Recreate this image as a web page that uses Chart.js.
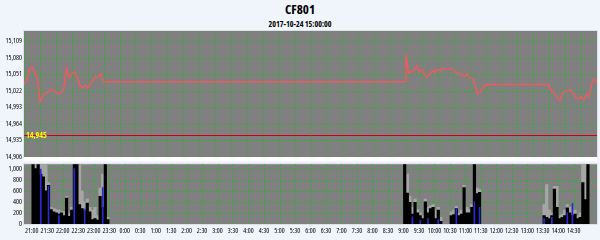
<!DOCTYPE html>
<html>
<head>
<meta charset="utf-8">
<script src="https://cdn.jsdelivr.net/npm/chart.js@4.4.0/dist/chart.umd.min.js"></script>
<style>
    html, body { margin: 0; padding: 0; background: #f0f4fb; }
    #wrap { position: relative; width: 600px; height: 240px; overflow: hidden; }
    canvas { position: absolute; left: 0; }
    #priceChart { top: 0; }
    #volChart { top: 158px; }
    #divider { position: absolute; left: 24px; top: 157px; width: 573px; height: 4px; background: #fff; }
    .head { position: absolute; left: 0; width: 600px; text-align: center; color: #000;
        font-family: 'Open Sans', sans-serif; font-stretch: condensed; font-weight: bold; white-space: nowrap; }
    #title { top: 2px; font-size: 13px; line-height: 14px; }
    #subtitle { top: 19px; font-size: 8px; line-height: 9px; }
</style>
</head>
<body>
<div id="wrap">
    <div id="title" class="head"></div>
    <div id="subtitle" class="head"></div>
    <canvas id="priceChart" width="600" height="166"></canvas>
    <canvas id="volChart" width="600" height="82"></canvas>
    <div id="divider"></div>
</div>
<script>
// Chart text
const chartTitle = 'CF801';
const chartSubtitle = '2017-10-24 15:00:00';

// Axis ticks
const timeTicks = ['21:00', '21:30', '22:00', '22:30', '23:00', '23:30', '0:00', '0:30', '1:00', '1:30',
    '2:00', '2:30', '3:00', '3:30', '4:00', '4:30', '5:00', '5:30', '6:00', '6:30', '7:00', '7:30',
    '8:00', '8:30', '9:00', '9:30', '10:00', '10:30', '11:00', '11:30', '12:00', '12:30', '13:00',
    '13:30', '14:00', '14:30'];
const sessionEnd = '15:00';
const priceTicks = [14906, 14935, 14964, 14993, 15022, 15051, 15080, 15109];
const priceMin = 14906;
const priceMax = 15127;
const volumeTicks = [0, 200, 400, 600, 800, 1000];
const volumeMax = 1080;
const refPrice = 14945;

// Price line
const priceTimes = ['21:00', '21:05', '21:10', '21:15', '21:20', '21:25', '21:30', '21:35', '21:40', '21:45',
    '21:50', '21:55', '22:00', '22:05', '22:10', '22:15', '22:20', '22:25', '22:30', '22:35', '22:40',
    '22:45', '22:50', '22:55', '23:00', '23:05', '23:10', '23:15', '23:20', '23:25', '23:30',
    '9:00', '9:00', '9:05', '9:10', '9:15', '9:20', '9:25', '9:30', '9:35', '9:40', '9:45', '9:50',
    '9:55', '10:00', '10:05', '10:10', '10:15', '10:30', '10:35', '10:40', '10:45', '10:50', '10:55',
    '11:00', '11:05', '11:10', '11:15', '11:20', '11:25', '11:30',
    '13:30', '13:30', '13:35', '13:40', '13:45', '13:50', '13:55', '14:00', '14:05', '14:10', '14:15',
    '14:20', '14:25', '14:30', '14:35', '14:40', '14:45', '14:50', '14:55', '15:00'];
const priceValues = [15034, 15040, 15058, 15064, 15055, 15045, 15003, 15012, 15018, 15020,
    15025, 15022, 15020, 15016, 15020, 15024, 15062, 15045, 15052, 15055, 15048,
    15031, 15028, 15032, 15027, 15035, 15040, 15048, 15046, 15052, 15038,
    15038, 15085, 15053, 15056, 15058, 15065, 15056, 15060, 15050, 15046, 15052, 15058,
    15054, 15060, 15058, 15062, 15061, 15060, 15052, 15053, 15050, 15047, 15052,
    15046, 15043, 15033, 15017, 15020, 15027, 15033,
    15033, 15027, 15022, 15019, 15009, 15005, 15018, 15021, 15022, 15024, 15018,
    15010, 15008, 15012, 15006, 15015, 15012, 15035, 15043, 15036];

// Volume bars (5-minute buckets)
const volumeTimes = ['21:00', '21:05', '21:10', '21:15', '21:20', '21:25', '21:30', '21:35', '21:40', '21:45',
    '21:50', '21:55', '22:00', '22:05', '22:10', '22:15', '22:20', '22:25', '22:30', '22:35', '22:40',
    '22:45', '22:50', '22:55', '23:00', '23:05', '23:10', '23:15', '23:20', '23:25',
    '9:00', '9:05', '9:10', '9:15', '9:20', '9:25', '9:30', '9:35', '9:40', '9:45', '9:50', '9:55',
    '10:00', '10:05', '10:10',
    '10:30', '10:35', '10:40', '10:45', '10:50', '10:55', '11:00', '11:05', '11:10', '11:15', '11:20', '11:25',
    '13:30', '13:35', '13:40', '13:45', '13:50', '13:55', '14:00', '14:05', '14:10', '14:15', '14:20',
    '14:25', '14:30', '14:35', '14:40', '14:45', '14:50', '14:55'];
const volumeBlack = [1080, 1000, 1080, 900, 850, 600, 700, 260, 220, 200, 180, 200, 150, 470, 140, 250,
    1080, 1080, 350, 280, 240, 380, 220, 80, 100, 70, 500, 300, 1080, 80,
    1080, 560, 390, 180, 390, 200, 150, 100, 400, 200, 280, 300, 100, 250, 50,
    150, 170, 280, 150, 180, 660, 200, 200, 300, 1080, 550, 570,
    150, 120, 100, 150, 630, 300, 100, 120, 150, 290, 200, 150, 180, 100, 120, 750, 440, 1080];
const volumeGray = [1080, 1080, 1080, 1080, 1080, 1080, 750, 300, 280, 260, 250, 220, 230, 500, 200, 300,
    1080, 1080, 1080, 600, 400, 450, 300, 250, 300, 150, 650, 900, 1080, 120,
    1080, 900, 500, 300, 450, 260, 200, 150, 450, 300, 330, 350, 250, 300, 120,
    220, 250, 320, 200, 250, 700, 300, 260, 350, 1080, 650, 620,
    350, 710, 250, 200, 680, 680, 150, 180, 250, 350, 300, 220, 250, 150, 200, 1080, 1080, 1080];
const volumeBlue = [null, null, null, 990, null, null, 680, null, null, null, 150, null, null, null, null,
    null, 1000, null, null, null, 270, null, null, null, null, null, null, 660, null, null,
    null, null, null, 130, null, null, 60, null, null, 100, null, null, null, 80, null,
    null, null, 280, null, null, null, null, null, null, 400, null, 300,
    100, null, null, 120, null, null, null, null, null, 200, null, 370, null, null, null, null, null, null];

// minutes since session open at 21:00
const toMinutes = t => {
    const [h, m] = t.split(':').map(Number);
    return (h * 60 + m + 180) % 1440 || (t === sessionEnd ? 1080 : 0);
};

document.getElementById('title').textContent = chartTitle;
document.getElementById('subtitle').textContent = chartSubtitle;

// 'condensed' goes into the weight slot so the canvas font string picks the narrow width of Open Sans
const tickFont = { family: '"Open Sans", sans-serif', size: 7, weight: 'condensed' };
const gridColor = '#30b030';

const plotFrame = {
    id: 'plotFrame',
    beforeDraw(chart) {
        const { ctx, chartArea: a } = chart;
        ctx.save();
        ctx.fillStyle = '#808080';
        ctx.fillRect(a.left, a.top, a.right - a.left, a.bottom - a.top);
        ctx.restore();
    },
    beforeDatasetsDraw(chart) {
        const { ctx, chartArea: a, scales: { x, y } } = chart;
        ctx.save();
        ctx.strokeStyle = gridColor;
        ctx.lineWidth = 1;
        ctx.setLineDash([2, 2]);
        ctx.beginPath();
        x.ticks.forEach(t => {
            const px = Math.round(x.getPixelForValue(t.value)) + 0.5;
            ctx.moveTo(px, a.top);
            ctx.lineTo(px, a.bottom);
        });
        y.ticks.forEach(t => {
            const py = Math.round(y.getPixelForValue(t.value)) + 0.5;
            ctx.moveTo(a.left, py);
            ctx.lineTo(a.right, py);
        });
        ctx.stroke();
        ctx.restore();
    },
    afterDraw(chart) {
        const { ctx, chartArea: a } = chart;
        ctx.save();
        ctx.strokeStyle = '#dde2ea';
        ctx.lineWidth = 1;
        ctx.strokeRect(Math.round(a.left) - 0.5, Math.round(a.top) - 0.5,
            Math.round(a.right - a.left) + 1, Math.round(a.bottom - a.top) + 1);
        ctx.restore();
    }
};

const refLine = {
    id: 'refLine',
    afterDatasetsDraw(chart) {
        const { ctx, chartArea: a, scales: { y } } = chart;
        const py = Math.round(y.getPixelForValue(refPrice)) + 0.5;
        ctx.save();
        ctx.strokeStyle = '#d00000';
        ctx.lineWidth = 1;
        ctx.beginPath();
        ctx.moveTo(a.left, py);
        ctx.lineTo(a.right, py);
        ctx.stroke();
        ctx.fillStyle = '#ffff00';
        ctx.font = 'bold condensed 8px "Open Sans", sans-serif';
        ctx.textBaseline = 'middle';
        ctx.fillText(refPrice.toLocaleString('en-US'), a.left + 2, py);
        ctx.restore();
    }
};

const xAxis = showLabels => ({
    type: 'linear',
    min: 0,
    max: toMinutes(sessionEnd),
    afterBuildTicks: s => {
        s.ticks = timeTicks.map(t => ({ value: toMinutes(t) })).concat([{ value: toMinutes(sessionEnd) }]);
    },
    afterFit: s => { s.height = showLabels ? 16 : 0; },
    ticks: {
        display: showLabels, autoSkip: false, maxRotation: 0, padding: 3,
        font: tickFont, color: '#000',
        callback: (v, i) => timeTicks[i] || ''
    },
    grid: { display: false, drawTicks: false },
    border: { display: false }
});

const yAxis = (min, max, tickList) => ({
    min, max,
    afterBuildTicks: s => { s.ticks = tickList.map(v => ({ value: v })); },
    afterFit: s => { s.width = 24; },
    ticks: { autoSkip: false, font: tickFont, color: '#000', padding: 2, callback: v => v.toLocaleString('en-US') },
    grid: { display: false, drawTicks: false },
    border: { display: false }
});

new Chart(document.getElementById('priceChart'), {
    type: 'line',
    data: {
        datasets: [{
            data: priceTimes.map((t, i) => ({ x: toMinutes(t), y: priceValues[i] })),
            borderColor: '#ec5c5c',
            borderWidth: 1.5,
            pointRadius: 0,
            tension: 0,
            spanGaps: true
        }]
    },
    options: {
        responsive: false,
        animation: false,
        devicePixelRatio: 1,
        layout: { padding: { left: 0, right: 3, top: 31, bottom: 9 } },
        plugins: { legend: { display: false }, tooltip: { enabled: false } },
        scales: {
            x: xAxis(false),
            y: yAxis(priceMin, priceMax, priceTicks)
        }
    },
    plugins: [plotFrame, refLine]
});

const barSet = (values, color, order, extra) => Object.assign({
    data: volumeTimes.map((t, i) => ({ x: toMinutes(t) + 2.5, y: values[i] })),
    backgroundColor: color,
    borderWidth: 0,
    grouped: false,
    order,
    barPercentage: 1,
    categoryPercentage: 1
}, extra || {});

new Chart(document.getElementById('volChart'), {
    type: 'bar',
    data: {
        datasets: [
            barSet(volumeBlue, '#2b2bd0', 1, { barThickness: 1 }),
            barSet(volumeBlack, '#000000', 2),
            barSet(volumeGray, '#a6a6a6', 3)
        ]
    },
    options: {
        responsive: false,
        animation: false,
        devicePixelRatio: 1,
        layout: { padding: { left: 0, right: 3, top: 3, bottom: 0 } },
        plugins: { legend: { display: false }, tooltip: { enabled: false } },
        scales: {
            x: xAxis(true),
            y: yAxis(0, volumeMax, volumeTicks)
        }
    },
    plugins: [plotFrame]
});
</script>
</body>
</html>
